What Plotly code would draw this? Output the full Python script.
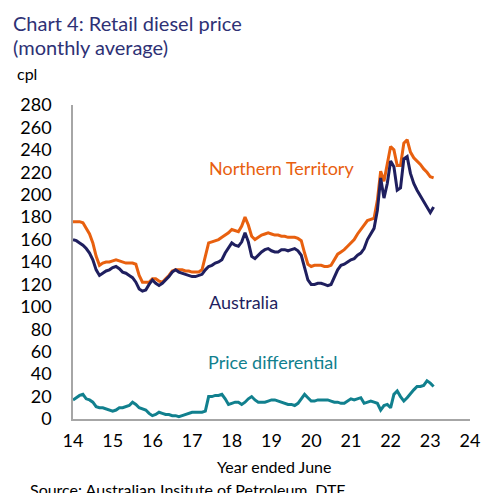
import plotly.graph_objects as go

nt = [176, 176, 176, 175, 170, 165, 157, 145, 137, 139,
      140, 140, 141, 142, 141, 140, 139, 139, 139, 138,
      128, 122, 122, 122, 125, 125, 123, 122, 125, 128,
      132, 133, 133, 133, 132, 132, 131, 131, 131, 133,
      145, 157, 158, 159, 160, 162, 164, 166, 169, 168,
      167, 172, 180, 173, 163, 160, 162, 164, 165, 166,
      165, 164, 164, 163, 163, 162, 162, 162, 161, 159,
      148, 138, 136, 137, 137, 137, 136, 136, 137, 142,
      147, 149, 151, 154, 157, 160, 165, 169, 174, 177,
      178, 179, 195, 221, 212, 228, 243, 240, 226, 226,
      246, 249, 238, 233, 230, 227, 223, 220, 216, 215]

aus = [160, 159, 157, 155, 152, 148, 142, 133, 128, 130,
       132, 133, 135, 136, 134, 131, 130, 128, 126, 122,
       116, 114, 115, 120, 124, 121, 119, 121, 124, 127,
       131, 133, 131, 130, 129, 128, 127, 127, 128, 129,
       133, 136, 137, 139, 140, 142, 148, 153, 157, 155,
       154, 158, 166, 158, 145, 143, 146, 149, 151, 152,
       150, 149, 149, 151, 151, 150, 151, 152, 150, 146,
       135, 124, 120, 120, 121, 121, 120, 119, 120, 127,
       133, 137, 138, 140, 142, 143, 146, 148, 152, 160,
       165, 170, 186, 215, 197, 210, 230, 225, 204, 206,
       232, 234, 219, 210, 204, 199, 195, 189, 184, 189]

diff = [17, 19, 21, 22, 18, 17, 15, 11, 10, 10,
        9, 8, 7, 8, 10, 10, 11, 12, 15, 13,
        10, 9, 8, 5, 3, 4, 6, 5, 4, 4,
        3, 3, 2, 3, 4, 5, 6, 6, 6, 6,
        7, 20, 20, 21, 21, 22, 18, 13, 14, 15,
        15, 13, 15, 18, 20, 17, 15, 15, 15, 16,
        17, 17, 16, 15, 14, 13, 13, 12, 14, 18,
        22, 19, 16, 16, 17, 17, 17, 17, 16, 15,
        15, 14, 14, 16, 18, 17, 18, 19, 14, 15,
        16, 15, 14, 8, 12, 13, 10, 22, 25, 20,
        16, 19, 23, 26, 29, 29, 30, 34, 32, 29]

x = [14 + i / 12 for i in range(len(nt))]

x_ticks = [14, 15, 16, 17, 18, 19, 20, 21, 22, 23, 24]
y_ticks = list(range(0, 281, 20))

C_NT = "#e8600f"
C_AUS = "#1f1f5f"
C_DIFF = "#11808e"
C_TITLE = "#2e3175"
FONT = "Lato, 'Open Sans', sans-serif"

fig = go.Figure()
fig.add_trace(go.Scatter(x=x, y=nt, mode="lines", line=dict(color=C_NT, width=3), name="Northern Territory"))
fig.add_trace(go.Scatter(x=x, y=aus, mode="lines", line=dict(color=C_AUS, width=3), name="Australia"))
fig.add_trace(go.Scatter(x=x, y=diff, mode="lines", line=dict(color=C_DIFF, width=3), name="Price differential"))

# screen-pixel helpers (plot area spans x 70..479, y 105..419 on screen)
def ypaper(px):
    return (419 - px) / 314

def xpaper(px):
    return (px - 70) / 409

ann = [
    dict(text="Chart 4: Retail diesel price", x=xpaper(6), y=ypaper(23), xanchor="left", yanchor="middle",
         font=dict(size=20, color=C_TITLE)),
    dict(text="(monthly average)", x=xpaper(6), y=ypaper(47), xanchor="left", yanchor="middle",
         font=dict(size=20, color=C_TITLE)),
    dict(text="cpl", x=xpaper(10), y=ypaper(74), xanchor="left", yanchor="middle",
         font=dict(size=16, color="#000000")),
    dict(text="Year ended June", x=xpaper(277), y=ypaper(466), xanchor="center", yanchor="middle",
         font=dict(size=16, color="#000000")),
    dict(text="Source: Australian Insitute of Petroleum, DTF", x=xpaper(24), y=ypaper(489), xanchor="left", yanchor="middle",
         font=dict(size=16, color="#000000")),
]
for a in ann:
    a.update(xref="paper", yref="paper", showarrow=False)

ann += [
    dict(text="Northern Territory", x=19.25, y=223.6, xref="x", yref="y", showarrow=False,
         font=dict(size=18, color=C_NT)),
    dict(text="Australia", x=18.29, y=104.6, xref="x", yref="y", showarrow=False,
         font=dict(size=18, color=C_AUS)),
    dict(text="Price differential", x=19.03, y=50.8, xref="x", yref="y", showarrow=False,
         font=dict(size=18, color=C_DIFF)),
]

fig.update_layout(
    width=484, height=485,
    margin=dict(l=62, r=13, t=97, b=74),
    paper_bgcolor="white", plot_bgcolor="white",
    showlegend=False,
    font=dict(family=FONT, color="#000000"),
    annotations=ann,
    xaxis=dict(range=[14, 24], tickvals=x_ticks, ticktext=[str(v) for v in x_ticks],
               showgrid=False, zeroline=False, showline=True, linecolor="#a6a6a6", linewidth=1.5,
               ticks="outside", ticklen=5, tickcolor="rgba(0,0,0,0)", tickfont=dict(size=18, color="#000")),
    yaxis=dict(range=[0, 280], tickvals=y_ticks, ticktext=[str(v) for v in y_ticks],
               showgrid=False, zeroline=False, showline=True, linecolor="#a6a6a6", linewidth=1.5,
               ticks="outside", ticklen=16, tickcolor="rgba(0,0,0,0)", tickfont=dict(size=18, color="#000")),
)

fig.write_html("out.html")
